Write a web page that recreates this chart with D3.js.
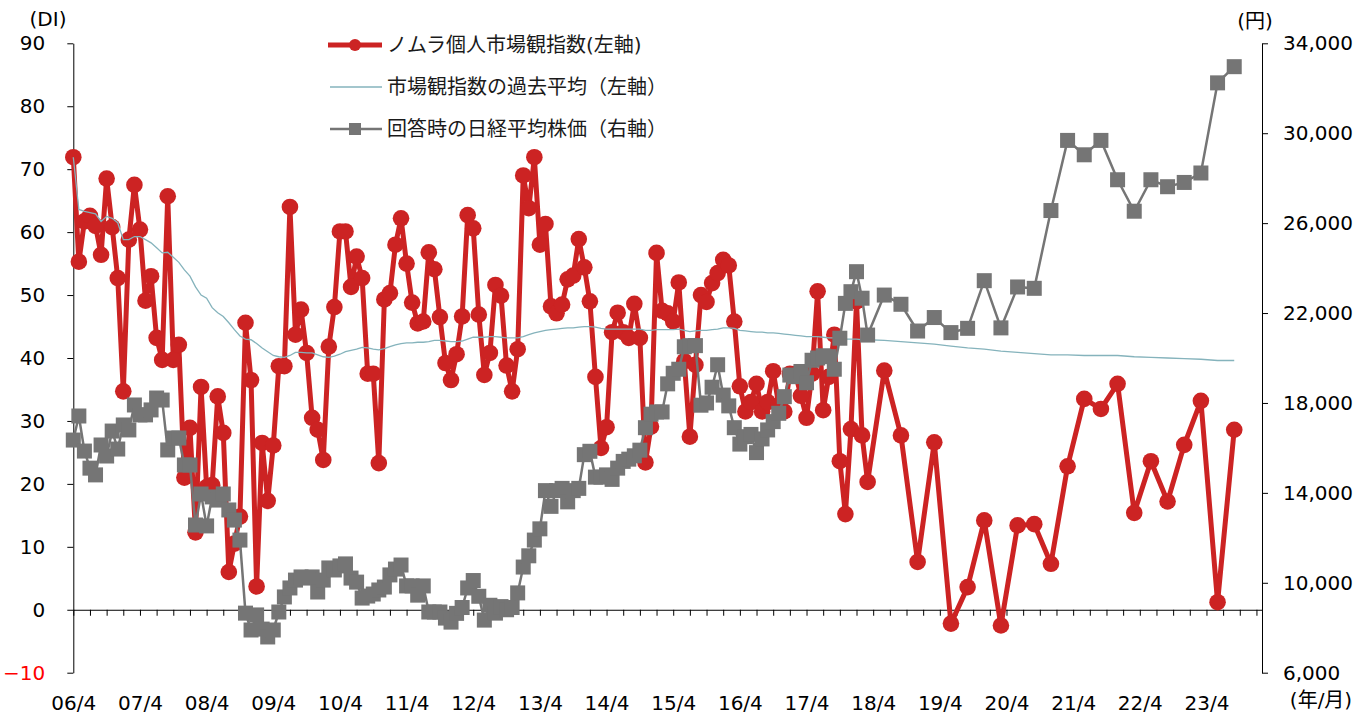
<!DOCTYPE html>
<html>
<head>
<meta charset="utf-8">
<script src="https://cdn.jsdelivr.net/npm/d3@7"></script>
<style>
  body { margin: 0; background: #fff; }
  text { font-family: "DejaVu Sans", "Noto Sans CJK JP", sans-serif; }
</style>
</head>
<body>
<div id="chart"></div>
<script>
// ---- data ----
// monthly survey 2006/04 - 2018/03
const monthlyDI = [
  71.9, 55.3, 61.7, 62.6, 61.0, 56.4, 68.5, 60.8, 52.7, 34.7,
  58.8, 67.5, 60.4, 49.1, 53.0, 43.2, 39.7, 65.7, 39.7, 42.1,
  21.0, 28.9, 12.3, 35.4, 19.5, 19.8, 33.9, 28.1, 6.0, 10.5,
  14.8, 45.6, 36.5, 3.7, 26.5, 17.3, 26.1, 38.7, 38.7, 64.0,
  43.7, 47.7, 40.8, 30.5, 28.6, 23.8, 41.8, 48.1, 60.1, 60.1,
  51.3, 56.1, 52.7, 37.5, 37.5, 23.3, 49.3, 50.3, 58.0, 62.2,
  55.0, 48.8, 45.5, 45.8, 56.8, 54.1, 46.5, 39.2, 36.5, 40.6,
  46.6, 62.7, 60.6, 46.9, 37.3, 40.8, 51.6, 49.9, 38.8, 34.7,
  41.4, 69.0, 63.8, 71.9, 58.0, 61.3, 48.2, 47.1, 48.5, 52.5,
  53.1, 58.9, 54.4, 49.0, 37.0, 25.7, 29.0, 44.1, 47.2, 44.1,
  43.2, 48.6, 43.2, 23.4, 29.1, 56.7, 47.5, 47.1, 45.8, 52.0,
  39.5, 27.5, 38.9, 50.0, 48.9, 51.9, 53.5, 55.6, 54.7, 45.8,
  35.5, 31.5, 33.0, 35.9, 31.5, 33.0, 37.9, 32.5, 31.5, 37.5,
  37.5, 34.0, 30.5, 37.5, 50.6, 31.7, 37.0, 43.7, 23.6, 15.2,
  28.7, 49.0, 27.7, 20.3
];
const monthlyAvg = [
  71.9, 63.6, 63.3, 63.1, 62.9, 61.7, 62.5, 62.2, 61.5, 58.8,
  58.8, 59.3, 59.3, 58.8, 58.3, 57.5, 56.7, 56.8, 56.0, 55.2,
  54.0, 53.0, 51.3, 50.0, 49.5, 48.0, 47.2, 46.6, 45.6, 44.5,
  43.5, 43.0, 42.9, 42.3, 41.6, 41.0, 40.4, 40.2, 40.1, 40.4,
  40.9, 40.9, 40.8, 40.8, 40.5, 40.2, 40.1, 40.3, 40.6, 41.0,
  41.2, 41.4, 41.7, 41.6, 41.4, 41.3, 41.5, 41.8, 42.1, 42.3,
  42.4, 42.4, 42.5, 42.5, 42.6, 42.8, 42.8, 42.7, 42.6, 42.6,
  42.7, 43.0, 43.3, 43.3, 43.3, 43.4, 43.4, 43.3, 43.2, 43.2,
  43.2, 43.4, 43.7, 44.0, 44.2, 44.4, 44.5, 44.6, 44.7, 44.8,
  44.8, 44.9, 45.0, 45.0, 44.9, 44.7, 44.6, 44.6, 44.6, 44.6,
  44.6, 44.6, 44.6, 44.4, 44.4, 44.5, 44.5, 44.5, 44.5, 44.6,
  44.4, 44.2, 44.3, 44.4, 44.4, 44.5, 44.6, 44.8, 44.8, 44.7,
  44.4, 44.3, 44.2, 44.1, 44.1, 44.0, 44.0, 43.9, 43.8, 43.7,
  43.6, 43.5, 43.4, 43.4, 43.4, 43.3, 43.2, 43.2, 43.1, 43.0,
  43.0, 43.0, 42.9, 42.9
];
const monthlyNikkei = [
  16350, 17420, 15860, 15100, 14800, 16130, 15640, 16750, 15950, 17020,
  16800, 17910, 17470, 17470, 17690, 18220, 18130, 15910, 16440, 16440,
  15240, 15240, 12570, 13950, 12530, 13820, 13680, 13950, 13240, 12790,
  11900, 8650, 7900, 8570, 7940, 7590, 7900, 8700, 9370, 9770,
  10120, 10260, 10210, 10260, 9590, 10120, 10660, 10570, 10750, 10840,
  10210, 10030, 9320, 9410, 9500, 9680, 9810, 10350, 10610, 10790,
  9860, 9860, 9450, 9860, 8700, 8700, 8700, 8430, 8250, 8640,
  8900, 9770, 10100, 9400, 8340, 9000, 8650, 8940, 8800, 8900,
  9550, 10700, 11200, 11900, 12400, 14100, 13400, 14100, 14200, 13600,
  14100, 14200, 15700, 15850, 14700, 14700, 14800, 14600, 15100, 15400,
  15500, 15650, 15900, 16900, 17500, 17600, 17600, 18850, 19320, 19500,
  20500, 20550, 20550, 17900, 18000, 18700, 19700, 18350, 17870, 16900,
  16170, 16500, 16600, 15790, 16400, 16800, 17170, 17540, 18280, 19240,
  19170, 19400, 18900, 19900, 20000, 20100, 20060, 19500, 20880, 22430,
  22950, 23840, 22660, 21020
];

// quarterly survey from 2018/06
const quarterlyDates = [
  "2018/06", "2018/09", "2018/12", "2019/03", "2019/06", "2019/09", "2019/12", "2020/03",
  "2020/06", "2020/09", "2020/12", "2021/03", "2021/06", "2021/09", "2021/12", "2022/03",
  "2022/06", "2022/09", "2022/12", "2023/03", "2023/06", "2023/09"
];
const quarterlyDI = [
  38.0, 27.7, 7.6, 26.6, -2.2, 3.6, 14.2, -2.5, 13.4, 13.6, 7.3,
  22.8, 33.5, 31.9, 35.9, 15.4, 23.6, 17.2, 26.2, 33.2, 1.2, 28.6
];
const quarterlyAvg = [
  42.8, 42.6, 42.4, 42.2, 41.9, 41.6, 41.4, 41.1, 40.9, 40.7, 40.5,
  40.5, 40.4, 40.4, 40.4, 40.2, 40.1, 40.0, 39.9, 39.8, 39.6, 39.6
];
const quarterlyNikkei = [
  22800, 22390, 21200, 21800, 21130, 21320, 23440, 21340, 23160, 23100, 26560,
  29680, 29040, 29680, 27930, 26530, 27930, 27620, 27810, 28230, 32240, 32960
];

const leftTicks = [-10, 0, 10, 20, 30, 40, 50, 60, 70, 80, 90];
const rightTicks = [6000, 10000, 14000, 18000, 22000, 26000, 30000, 34000];
const legendLabels = [
  "ノムラ個人市場観指数(左軸)",
  "市場観指数の過去平均（左軸）",
  "回答時の日経平均株価（右軸）"
];

// ---- build rows ----
const parseYM = d3.timeParse("%Y/%m");
const monthlyDates = d3.timeMonth.range(new Date(2006, 3, 1), new Date(2018, 3, 1));
const dates = monthlyDates.concat(quarterlyDates.map(parseYM));
const di = monthlyDI.concat(quarterlyDI);
const avg = monthlyAvg.concat(quarterlyAvg);
const nikkei = monthlyNikkei.concat(quarterlyNikkei);

// months since 2006/04 (date axis with month base unit)
const monthIdx = d => (d.getFullYear() - 2006) * 12 + d.getMonth() - 3;
const rows = dates.map((d, i) => ({ m: monthIdx(d), di: di[i], avg: avg[i], nk: nikkei[i] }));

// ---- layout ----
const W = 1371, H = 715;
const red = "#cc2323", gray = "#757575", teal = "#85b3bc";

const svg = d3.select("#chart").append("svg")
  .attr("width", W)
  .attr("height", H);

const x = d3.scaleLinear().domain([0, 214]).range([73.3, 1262]);
const yL = d3.scaleLinear().domain([-10, 90]).range([672.7, 43.3]);
const yR = d3.scaleLinear().domain([6000, 34000]).range([672.7, 43.3]);

// x axis on the zero line, quarterly ticks
svg.append("g")
  .attr("transform", `translate(0,${yL(0)})`)
  .call(d3.axisBottom(x).tickValues(d3.range(0, 214, 3)).tickSize(6).tickSizeOuter(0).tickFormat(""))
  .call(g => g.selectAll("path,line").attr("stroke", "#000"));

// yearly labels at the bottom
svg.append("g")
  .attr("transform", "translate(0,696)")
  .call(d3.axisBottom(x).tickValues(d3.range(0, 205, 12)).tickSize(0).tickPadding(0)
    .tickFormat(m => d3.timeFormat("%y")(new Date(2006 + Math.floor(m / 12), 3, 1)) + "/4"))
  .call(g => g.select(".domain").remove())
  .call(g => g.selectAll("text").attr("font-size", 20).attr("fill", "#000")
    .attr("font-family", "DejaVu Sans"));

// left axis
svg.append("g")
  .attr("transform", `translate(${x(0)},0)`)
  .call(d3.axisLeft(yL).tickValues(leftTicks).tickSize(6).tickSizeOuter(0).tickPadding(22))
  .call(g => g.selectAll("path,line").attr("stroke", "#000"))
  .call(g => g.selectAll("text").attr("font-size", 20).attr("font-family", "DejaVu Sans")
    .attr("fill", d => d < 0 ? "#ff0000" : "#000"));

// right axis
svg.append("g")
  .attr("transform", `translate(${x(214)},0)`)
  .call(d3.axisRight(yR).tickValues(rightTicks).tickSize(6).tickSizeOuter(0).tickPadding(15)
    .tickFormat(d3.format(",")))
  .call(g => g.selectAll("path,line").attr("stroke", "#000"))
  .call(g => g.selectAll("text").attr("font-size", 20).attr("font-family", "DejaVu Sans").attr("fill", "#000"));

// axis titles
const title = (tx, ty, s) => svg.append("text")
  .attr("x", tx).attr("y", ty)
  .attr("text-anchor", "middle")
  .attr("dominant-baseline", "central")
  .attr("font-size", 20)
  .attr("fill", "#000")
  .text(s);
title(48, 19, "(DI)");
title(1255, 21, "(円)");
title(1321, 700, "(年/月)");

// ---- series ----
const diLine = d3.line().x(d => x(d.m)).y(d => yL(d.di));
const avgLine = d3.line().x(d => x(d.m)).y(d => yL(d.avg));
const nkLine = d3.line().x(d => x(d.m)).y(d => yR(d.nk));

svg.append("path")
  .datum(rows)
  .attr("d", diLine)
  .attr("fill", "none")
  .attr("stroke", red)
  .attr("stroke-width", 5)
  .attr("stroke-linejoin", "round");

svg.append("g").selectAll("circle")
  .data(rows)
  .join("circle")
  .attr("cx", d => x(d.m))
  .attr("cy", d => yL(d.di))
  .attr("r", 8.3)
  .attr("fill", red);

svg.append("path")
  .datum(rows)
  .attr("d", avgLine)
  .attr("fill", "none")
  .attr("stroke", teal)
  .attr("stroke-width", 1.3);

svg.append("path")
  .datum(rows)
  .attr("d", nkLine)
  .attr("fill", "none")
  .attr("stroke", gray)
  .attr("stroke-width", 2.5);

svg.append("g").selectAll("rect")
  .data(rows)
  .join("rect")
  .attr("x", d => x(d.m) - 7.5)
  .attr("y", d => yR(d.nk) - 7.5)
  .attr("width", 15)
  .attr("height", 15)
  .attr("fill", gray);

// ---- legend ----
const legend = svg.append("g").attr("transform", "translate(328,45)");
const rowGap = 42;

legend.append("line").attr("x1", 0).attr("x2", 54).attr("y1", 0).attr("y2", 0)
  .attr("stroke", red).attr("stroke-width", 5);
legend.append("circle").attr("cx", 27).attr("cy", 0).attr("r", 6).attr("fill", red);

legend.append("line").attr("x1", 2).attr("x2", 54).attr("y1", rowGap).attr("y2", rowGap)
  .attr("stroke", teal).attr("stroke-width", 1.3);

legend.append("line").attr("x1", 2).attr("x2", 54).attr("y1", rowGap * 2).attr("y2", rowGap * 2)
  .attr("stroke", gray).attr("stroke-width", 2.5);
legend.append("rect").attr("x", 21).attr("y", rowGap * 2 - 6).attr("width", 12).attr("height", 12)
  .attr("fill", gray);

legend.selectAll("text.lab")
  .data(legendLabels)
  .join("text")
  .attr("class", "lab")
  .attr("x", 59)
  .attr("y", (d, i) => i * rowGap)
  .attr("dominant-baseline", "central")
  .attr("font-size", 20)
  .attr("font-family", "Noto Sans CJK JP")
  .attr("fill", "#1a1a1a")
  .text(d => d);
</script>
</body>
</html>
